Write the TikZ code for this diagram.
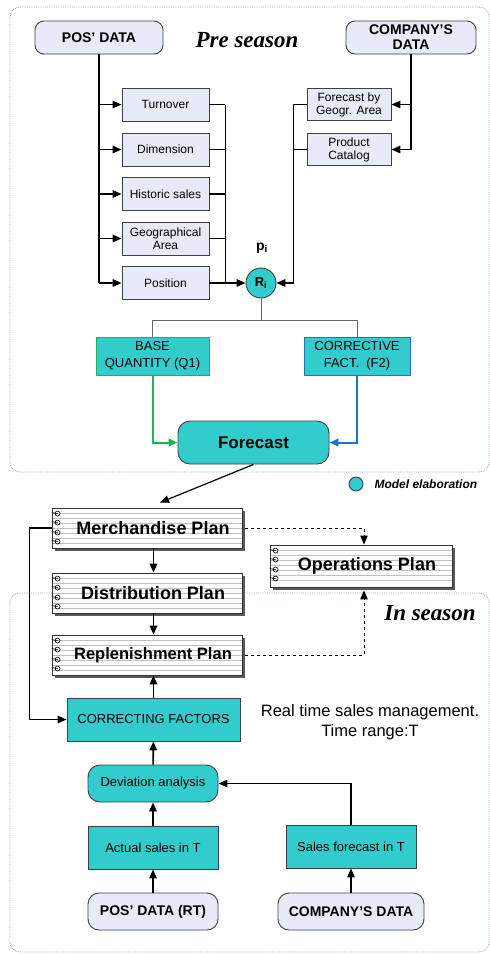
\documentclass[tikz,border=0pt]{standalone}
\usepackage{fontspec}
\setmainfont{Liberation Sans}
\newfontfamily\seasonfont{Liberation Serif}
\usetikzlibrary{arrows.meta,shadows}
\definecolor{teal1}{HTML}{33CCCC}
\definecolor{lav}{HTML}{E6EBF7}
\definecolor{frame}{HTML}{8DA6C8}
\definecolor{grn}{HTML}{1DB35A}
\definecolor{blu}{HTML}{1E72C8}
\tikzset{
  >={Triangle[length=9pt,width=7.5pt]},
  data/.style={draw=black!75,fill=lav,rounded corners=9pt,line width=0.9pt,align=center,inner sep=0pt,
    font=\fontsize{14}{15}\selectfont\bfseries},
  item/.style={draw=black!75,fill=lav,line width=0.9pt,align=center,inner sep=0pt,
    minimum width=87pt,minimum height=33pt,font=\fontsize{12}{13}\selectfont},
  model/.style={draw=black!75,fill=teal1,line width=0.9pt,align=center,inner sep=0pt,
    font=\fontsize{13}{16.5}\selectfont},
  plan/.style={draw=black!80,fill=white,line width=0.9pt,inner sep=0pt,
    minimum width=190pt,minimum height=40pt,font=\fontsize{18}{20}\selectfont\bfseries,
    execute at begin node=\hspace*{12pt},
    drop shadow={shadow xshift=3pt,shadow yshift=-3pt,fill=black!65,opacity=1},
    path picture={\foreach \k in {1,...,7}
      \draw[black!25,line width=0.4pt] ([yshift=-\k*5pt]path picture bounding box.north west)
        -- ([yshift=-\k*5pt]path picture bounding box.north east);}},
  season/.style={font=\seasonfont\fontsize{23}{25}\selectfont\bfseries\itshape},
  link/.style={line width=1.6pt},
}
\begin{document}
\begin{tikzpicture}[x=1pt,y=-1pt]
\useasboundingbox (0,0) rectangle (490,954);
\draw[frame,densely dotted,line width=0.8pt,rounded corners=10pt] (10,7) rectangle (489,472);
\draw[frame,densely dotted,line width=0.8pt,rounded corners=10pt] (10,593) rectangle (489,952);
\node[season] (pre) at (247,40) {Pre season};
\node[season] (ins) at (430,613) {In season};

\node[data,minimum width=128pt,minimum height=33pt] (pos) at (99,37.5) {POS' DATA};
\node[data,minimum width=130pt,minimum height=33pt] (comp) at (411,37.5) {COMPANY'S\\DATA};
\foreach \n/\y/\t in {turn/104.5/Turnover,dim/149.5/Dimension,hist/194/Historic sales,
    geo/238.5/{Geographical\\Area},posit/283/Position}
  \node[item] (\n) at (165.5,\y) {\t};
\node[item,minimum width=84pt,minimum height=32pt] (fgeo) at (349,104.5) {Forecast by\\Geogr. Area};
\node[item,minimum width=84pt,minimum height=32pt] (prod) at (349,149.5) {Product\\Catalog};
\node[circle,draw=black!75,fill=teal1,line width=0.9pt,minimum size=30pt,inner sep=0pt,
  font=\fontsize{13}{13}\selectfont\bfseries] (ri) at (261,283) {R\textsubscript{i}};
\node[font=\fontsize{14}{14}\selectfont\bfseries] (pi) at (262,248) {p\textsubscript{i}};

\draw[link] (pos) -- (pos.south |- posit.west);
\foreach \n in {turn,dim,hist,geo,posit}
  \draw[link,->] (pos.south |- \n.west) -- (\n.west);
\foreach \n in {turn,dim,hist,geo}
  \draw[link] (\n.east) -- ++(16,0);
\draw[link] ([xshift=16pt]turn.east) -- ([xshift=16pt]posit.east);
\draw[link,->] (posit) -- (ri);
\draw[link] (comp) -- (comp.south |- prod.east);
\foreach \n in {fgeo,prod}
  \draw[link,->] (comp.south |- \n.east) -- (\n.east);
\draw[link] (fgeo.west) -- ++(-13,0) coordinate (fb) -- (fb |- prod.west) -- (prod.west);
\draw[link,->] (fb) |- (ri.east);

\node[model,draw=grn,minimum width=113pt,minimum height=38pt] (base) at (152.5,356) {BASE\\QUANTITY (Q1)};
\node[model,draw=blu,minimum width=106pt,minimum height=38pt] (corr) at (357,356) {CORRECTIVE\\FACT.~ (F2)};
\node[model,rounded corners=12pt,minimum width=151pt,minimum height=43pt,
  font=\fontsize{17}{17}\selectfont\bfseries] (fc) at (253.5,442.5) {Forecast};
\draw[black!60,line width=1pt] (ri.south) -- ++(0,22) coordinate (split);
\draw[black!60,line width=1pt] (base.north) |- (split) -| (corr.north);
\draw[line width=2pt,grn,->] (base) |- (fc);
\draw[line width=2pt,blu,->] (corr) |- (fc);
\node[circle,draw=black!75,fill=teal1,line width=0.9pt,minimum size=14pt,inner sep=0pt] (leg) at (356,484) {};
\node[anchor=west,font=\fontsize{12}{12}\selectfont\bfseries\itshape] (legtxt) at (371,484) {Model elaboration};

\node[plan] (merch) at (147,528) {Merchandise Plan};
\node[plan] (distr) at (147,593) {Distribution Plan};
\node[plan,font=\fontsize{16.5}{18}\selectfont\bfseries] (repl) at (147,655) {Replenishment Plan};
\node[plan,minimum width=182pt,minimum height=42pt] (oper) at (361,566) {Operations Plan};
\foreach \n in {merch,distr,repl,oper}
  \foreach \k in {6,15,25,34}
    \draw[line width=0.6pt] ([xshift=6pt,yshift=-\k pt]\n.north west) circle (2.5pt) -- ++(-6pt,1pt);

\node[model,minimum width=173pt,minimum height=43pt] (cf) at (153.5,719.5) {CORRECTING FACTORS};
\node[font=\fontsize{16.5}{20}\selectfont,align=center] (rt) at (370,722) {Real time sales management.\\Time range:T};
\node[model,rounded corners=12pt,minimum width=130pt,minimum height=37pt] (dev) at (153,783.5) {Deviation analysis};
\node[model,minimum width=130pt,minimum height=43pt] (act) at (153,847.5) {Actual sales in T};
\node[model,minimum width=130pt,minimum height=43pt] (sfc) at (351,846.5) {Sales forecast in T};
\node[data,rounded corners=11pt,minimum width=130pt,minimum height=37pt] (posrt) at (153,911.5) {POS' DATA (RT)};
\node[data,rounded corners=11pt,minimum width=146pt,minimum height=37pt] (compb) at (351,911.5) {COMPANY'S DATA};

\draw[line width=1.2pt,->] (fc.south) -- ([xshift=13pt,yshift=5pt]merch.north);
\draw[link,->] (merch.south -| cf.north) -- (distr.north -| cf.north);
\draw[link,->] (distr.south -| cf.north) -- (repl.north -| cf.north);
\draw[link,->] (cf) -- (cf |- repl.south);
\draw[line width=1pt,dashed,->] ([xshift=3pt]merch.east) -| ([xshift=3pt]oper.north);
\draw[line width=1pt,dashed,->] ([xshift=3pt]repl.east) -| ([xshift=3pt,yshift=-3pt]oper.south);
\draw[link,->] (merch.west) -- ++(-22,0) |- (cf.west);
\draw[link,->] (dev) -- (cf);
\draw[link,->] (act) -- (dev);
\draw[link,->] (posrt) -- (act);
\draw[link,->] (compb) -- (sfc);
\draw[link,->] (sfc) |- (dev);
\end{tikzpicture}
\end{document}
